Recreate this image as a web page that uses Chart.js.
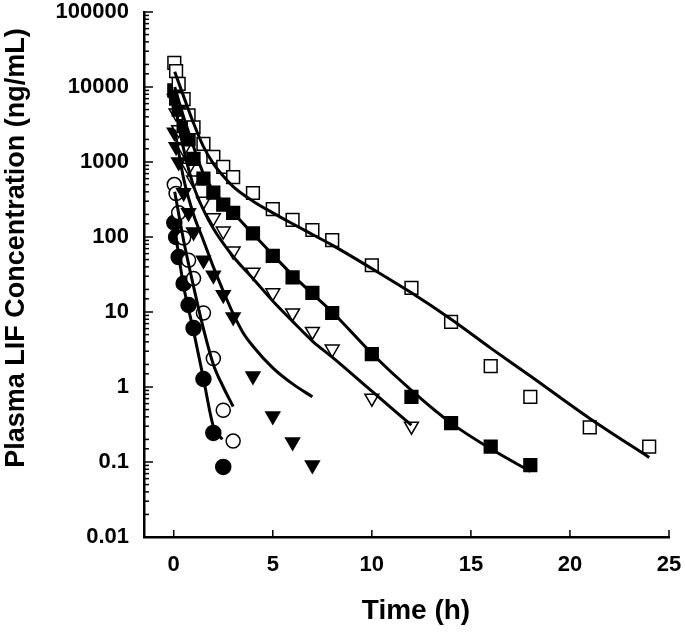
<!DOCTYPE html>
<html>
<head>
<meta charset="utf-8">
<script src="https://cdn.jsdelivr.net/npm/chart.js@4"></script>
<style>
  body { margin: 0; background: #fff; }
  #wrap { width: 685px; height: 635px; }
</style>
</head>
<body>
<div id="wrap"><canvas id="pkChart"></canvas></div>
<script>
// observed concentrations (ng/mL) by time (h), one pair per dose group
const sqOpenT = [0.03, 0.12, 0.25, 0.5, 0.75, 1, 1.5, 2, 2.5, 3, 4, 5, 6, 7, 8, 10, 12, 14, 16, 18, 21, 24];
const sqOpenC = [21000, 16300, 11000, 6900, 4200, 2900, 1750, 1170, 860, 630, 386, 236, 169, 124, 91, 42, 21, 7.4, 1.9, 0.74, 0.29, 0.16];

const sqFillT = [0.03, 0.12, 0.25, 0.5, 0.75, 1, 1.5, 2, 2.5, 3, 4, 5, 6, 7, 8, 10, 12, 14, 16, 18];
const sqFillC = [9000, 7000, 5000, 3000, 2000, 1100, 600, 390, 270, 210, 112, 56, 29, 18, 9.7, 2.75, 0.74, 0.33, 0.16, 0.091];

const triOpenT = [0.03, 0.12, 0.25, 0.5, 0.75, 1, 1.5, 2, 2.5, 3, 4, 5, 6, 7, 8, 10, 12];
const triOpenC = [7000, 4500, 2700, 1500, 850, 575, 300, 180, 120, 65, 34, 18, 9.7, 5.5, 3.2, 0.71, 0.3];

const triFillT = [0.03, 0.12, 0.25, 0.5, 0.75, 1, 1.5, 2, 2.5, 3, 4, 5, 6, 7];
const triFillC = [2500, 1600, 1000, 390, 210, 117, 49, 31, 17, 8.6, 1.4, 0.41, 0.185, 0.091];

const cirOpenT = [0.03, 0.12, 0.25, 0.5, 0.75, 1, 1.5, 2, 2.5, 3];
const cirOpenC = [500, 380, 210, 97, 49, 28, 9.7, 2.4, 0.49, 0.19];

const cirFillT = [0.03, 0.12, 0.25, 0.5, 0.75, 1, 1.5, 2, 2.5];
const cirFillC = [155, 100, 54, 24, 12.4, 6.1, 1.28, 0.244, 0.086];

// model fitted curves
const fitSqOpenT = [0.05, 0.5, 1, 1.5, 2, 2.5, 3, 4, 5, 6, 7, 8, 10, 12, 14, 16, 18, 21, 24];
const fitSqOpenC = [16000, 7500, 3300, 1600, 950, 650, 470, 300, 210, 150, 108, 78, 38, 18, 8, 3.3, 1.4, 0.38, 0.115];

const fitSqFillT = [0.05, 0.5, 1, 1.5, 2, 3, 4, 5, 6, 7, 8, 10, 12, 14, 16, 18];
const fitSqFillC = [10000, 4000, 1600, 700, 420, 210, 110, 58, 31, 17.5, 10, 2.8, 0.9, 0.33, 0.15, 0.075];

const fitTriOpenT = [0.05, 0.5, 1, 1.5, 2, 3, 4, 5, 6, 7, 8, 10, 12];
const fitTriOpenC = [6000, 1500, 480, 230, 130, 55, 28, 14, 7.5, 4.1, 2.5, 0.88, 0.31];

const fitTriFillT = [0.05, 0.5, 1, 1.5, 2, 2.5, 3, 3.5, 4, 5, 6, 7];
const fitTriFillC = [2700, 600, 200, 90, 40, 19, 9.5, 5.3, 3.5, 1.8, 1.1, 0.74];

const fitCirOpenT = [0.05, 0.5, 1, 1.5, 2, 2.5, 3];
const fitCirOpenC = [400, 90, 22, 6, 2.0, 1.0, 0.55];

const fitCirFillT = [0.05, 0.5, 1, 1.5, 2, 2.45];
const fitCirFillC = [130, 22, 5.6, 1.3, 0.3, 0.2];

const xTicks = [0, 5, 10, 15, 20, 25];
const xTitle = "Time (h)";
const yTitle = "Plasma LIF Concentration (ng/mL)";

const FONT = "'Liberation Sans', Arial, sans-serif";

const toPoints = (ts, cs) => ts.map((t, i) => ({ x: t, y: cs[i] }));
const isDecade = (v) => Math.abs(Math.log10(v) - Math.round(Math.log10(v))) < 1e-6;

function markerSet(ts, cs, style, rotation, filled, radius) {
  return {
    type: "scatter",
    data: toPoints(ts, cs),
    pointStyle: style,
    rotation: rotation,
    pointRadius: radius,
    pointBackgroundColor: filled ? "#000" : "#fff",
    pointBorderColor: "#000",
    pointBorderWidth: 1.5,
    showLine: false,
    order: 2,
  };
}

function fitSet(ts, cs) {
  return {
    type: "line",
    data: toPoints(ts, cs),
    borderColor: "#000",
    borderWidth: 3,
    pointRadius: 0,
    fill: false,
    cubicInterpolationMode: "monotone",
    order: 1,
  };
}

const axisDecor = {
  id: "axisDecor",
  afterDraw(chart) {
    const { ctx, chartArea, scales } = chart;
    ctx.save();
    ctx.strokeStyle = "#000";
    ctx.lineWidth = 1.5;
    scales.y.ticks.forEach((t) => {
      const py = scales.y.getPixelForValue(t.value);
      const len = isDecade(t.value) ? 9 : 5;
      ctx.beginPath();
      ctx.moveTo(chartArea.left, py);
      ctx.lineTo(chartArea.left + len, py);
      ctx.stroke();
    });
    scales.x.ticks.forEach((t) => {
      const px = scales.x.getPixelForValue(t.value);
      ctx.beginPath();
      ctx.moveTo(px, chartArea.bottom);
      ctx.lineTo(px, chartArea.bottom - 7);
      ctx.stroke();
    });
    ctx.fillStyle = "#000";
    ctx.textAlign = "center";
    ctx.textBaseline = "middle";
    // x title is a little right of the plot's centre in the original
    ctx.font = "bold 28px " + FONT;
    ctx.fillText(xTitle, 416, 611);
    // y title sits a bit above the plot's centre
    ctx.translate(17, 248);
    ctx.rotate(-Math.PI / 2);
    ctx.font = "bold 27px " + FONT;
    ctx.fillText(yTitle, 0, 0);
    ctx.restore();
  },
};

new Chart(document.getElementById("pkChart"), {
  type: "scatter",
  data: {
    datasets: [
      markerSet(sqOpenT, sqOpenC, "rect", 0, false, 9),
      markerSet(sqFillT, sqFillC, "rect", 0, true, 9),
      markerSet(triOpenT, triOpenC, "triangle", 180, false, 8),
      markerSet(triFillT, triFillC, "triangle", 180, true, 8),
      markerSet(cirOpenT, cirOpenC, "circle", 0, false, 7),
      markerSet(cirFillT, cirFillC, "circle", 0, true, 7.5),
      fitSet(fitSqOpenT, fitSqOpenC),
      fitSet(fitSqFillT, fitSqFillC),
      fitSet(fitTriOpenT, fitTriOpenC),
      fitSet(fitTriFillT, fitTriFillC),
      fitSet(fitCirOpenT, fitCirOpenC),
      fitSet(fitCirFillT, fitCirFillC),
    ],
  },
  options: {
    responsive: true,
    maintainAspectRatio: false,
    animation: false,
    layout: { padding: { left: 0, top: 12, right: 16, bottom: 0 } },
    plugins: {
      legend: { display: false },
      tooltip: { enabled: false },
    },
    scales: {
      x: {
        type: "linear",
        min: -1.5,
        max: 25,
        afterBuildTicks: (scale) => {
          scale.ticks = xTicks.map((v) => ({ value: v }));
        },
        afterFit: (scale) => {
          scale.height = 98;
          scale.paddingLeft = 0;
          scale.paddingRight = 0;
        },
        grid: { drawOnChartArea: false, drawTicks: false },
        border: { display: true, color: "#000", width: 2.5 },
        ticks: {
          padding: 15,
          color: "#000",
          font: { family: FONT, size: 22, weight: "bold" },
        },
      },
      y: {
        type: "logarithmic",
        min: 0.01,
        max: 100000,
        afterFit: (scale) => {
          scale.width = 144;
          scale.paddingTop = 0;
          scale.paddingBottom = 0;
        },
        grid: { drawOnChartArea: false, drawTicks: false },
        border: { display: true, color: "#000", width: 2.5 },
        ticks: {
          autoSkip: false,
          padding: 15,
          color: "#000",
          font: { family: FONT, size: 22, weight: "bold" },
          callback: (v) => {
            if (!isDecade(v)) return "";
            return v >= 1 ? String(Math.round(v)) : String(+v.toPrecision(1));
          },
        },
      },
    },
  },
  plugins: [axisDecor],
});
</script>
</body>
</html>
